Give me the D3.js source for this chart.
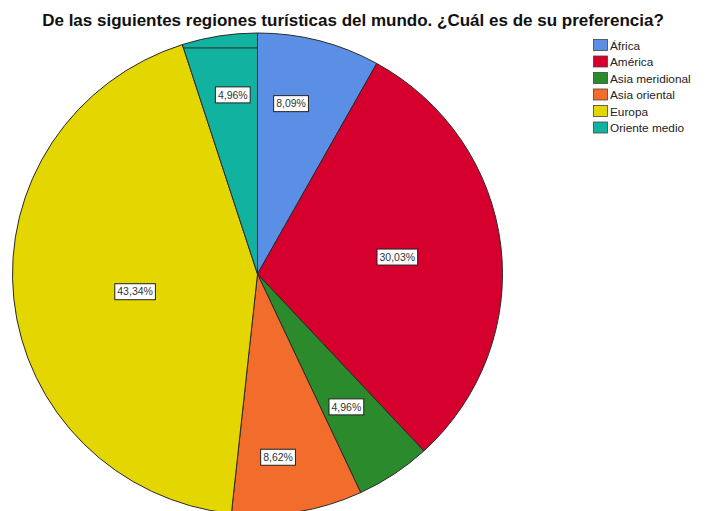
<!DOCTYPE html>
<html>
<head>
<meta charset="utf-8">
<script src="https://cdn.jsdelivr.net/npm/d3@7"></script>
<style>
  html, body { margin: 0; padding: 0; background: #ffffff; }
  svg { display: block; }
</style>
</head>
<body>
<svg id="chart" width="706" height="511"></svg>
<script>
// Regions and share of respondents (%)
const regions = ["África", "América", "Asia meridional", "Asia oriental", "Europa", "Oriente medio"];
const shares = [8.09, 30.03, 4.96, 8.62, 43.34, 4.96];
const sliceColors = ["#5b8fe6", "#d6002e", "#2a8a2c", "#f26c2c", "#e4d600", "#12b2a0"];

// Label placement inside each slice: fraction of radius and angular nudge (degrees)
const labelRadius = [0.72, 0.575, 0.66, 0.765, 0.505, 0.75];
const labelNudge = [-3.6, -0.2, 0.5, 3.1, -2.5, 1.2];

const title = "De las siguientes regiones turísticas del mundo. ¿Cuál es de su preferencia?";

const W = 706, H = 511;
const cx = 257.5, cy = 274, rx = 245, ry = 241;
const k = ry / rx;

const svg = d3.select("#chart");

svg.append("text")
  .attr("x", 353)
  .attr("y", 26)
  .attr("text-anchor", "middle")
  .attr("font-family", "Liberation Sans, Arial, sans-serif")
  .attr("font-weight", "bold")
  .attr("font-size", 17)
  .attr("fill", "#111")
  .text(title);

const data = regions.map((r, i) => ({ region: r, value: shares[i], color: sliceColors[i], i }));

const pie = d3.pie().value(d => d.value).sort(null);
const arcs = pie(data);
const arc = d3.arc().innerRadius(0).outerRadius(rx);

const g = svg.append("g")
  .attr("transform", `translate(${cx},${cy}) scale(1,${k})`);

g.selectAll("path.slice")
  .data(arcs)
  .join("path")
  .attr("class", "slice")
  .attr("d", arc)
  .attr("fill", d => d.data.color)
  .attr("stroke", "#2a2a2a")
  .attr("stroke-width", 1)
  .attr("vector-effect", "non-scaling-stroke");

// Thin chord drawn across the top of the last slice
const last = arcs[arcs.length - 1];
const chordLevel = 0.938;
const chordY = -chordLevel * rx;
const chordX0 = chordLevel * rx * Math.tan(last.startAngle);
g.append("line")
  .attr("x1", chordX0).attr("y1", chordY)
  .attr("x2", 0).attr("y2", chordY)
  .attr("stroke", "#2a2a2a")
  .attr("stroke-width", 1)
  .attr("vector-effect", "non-scaling-stroke");

// Percentage labels
const fmt = v => v.toFixed(2).replace(".", ",") + "%";
const labels = svg.append("g");
arcs.forEach((a, i) => {
  const mid = (a.startAngle + a.endAngle) / 2 + labelNudge[i] * Math.PI / 180;
  const x = cx + labelRadius[i] * rx * Math.sin(mid);
  const y = cy - labelRadius[i] * ry * Math.cos(mid);
  const lg = labels.append("g").attr("transform", `translate(${x},${y})`);
  const t = lg.append("text")
    .attr("text-anchor", "middle")
    .attr("dy", "0.35em")
    .attr("font-family", "Liberation Sans, Arial, sans-serif")
    .attr("font-size", 10.5)
    .attr("fill", "#333")
    .text(fmt(a.data.value));
  const w = t.node().getComputedTextLength();
  lg.insert("rect", "text")
    .attr("x", -w / 2 - 2.5)
    .attr("y", -8)
    .attr("width", w + 5)
    .attr("height", 16)
    .attr("fill", "#ffffff")
    .attr("stroke", "#222")
    .attr("stroke-width", 1);
});

// Legend
const legend = svg.append("g").attr("transform", "translate(593,39)");
const rowH = 16.5;
const item = legend.selectAll("g.item")
  .data(data)
  .join("g")
  .attr("class", "item")
  .attr("transform", (d, i) => `translate(0,${i * rowH})`);
item.append("rect")
  .attr("x", 0.5).attr("y", 0.5)
  .attr("width", 14).attr("height", 11)
  .attr("fill", d => d.color)
  .attr("stroke", "#444")
  .attr("stroke-width", 0.8);
item.append("text")
  .attr("x", 17)
  .attr("y", 10.5)
  .attr("font-family", "Liberation Sans, Arial, sans-serif")
  .attr("font-size", 11.8)
  .attr("fill", "#222")
  .text(d => d.region);
</script>
</body>
</html>
